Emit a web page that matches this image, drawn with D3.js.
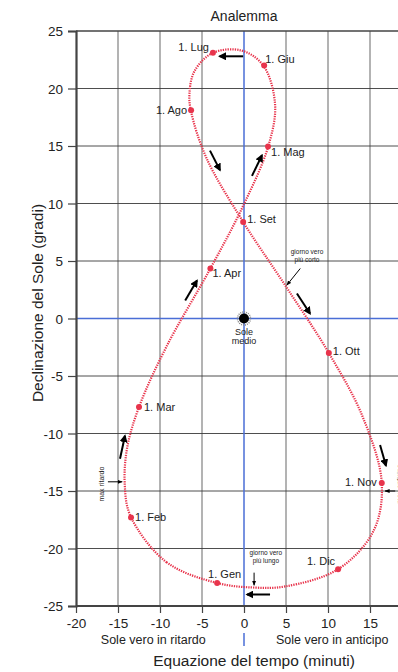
<!DOCTYPE html>
<html>
<head>
<meta charset="utf-8">
<script src="https://cdn.jsdelivr.net/npm/d3@7"></script>
<style>
  body { margin: 0; background: #fff; }
  svg { display: block; font-family: "Liberation Sans", Arial, sans-serif; }
</style>
</head>
<body>
<div id="chart"></div>
<script>
// ticks
var xTicks = [-20, -15, -10, -5, 0, 5, 10, 15]
var yTicks = [25, 20, 15, 10, 5, 0, -5, -10, -15, -20, -25]

// traced curve (equazione del tempo in minuti, declinazione in gradi), from 1 Jan
var curveEot  = [-3.2, -9.2, -13.5, -14.2, -13.9, -12.5, -9.2, -4.0, -0.1, 2.9, 3.7, 2.3, -0.3, -3.7, -5.9, -6.5, -6.3, -4.5, -0.1, 4.8, 10.1, 14.1, 16.4, 15.4, 11.2, 4.9, 1.3]
var curveDecl = [-23.0, -21.2, -17.2, -14.4, -11.2, -7.7, -2.4, 4.35, 9.8, 15.0, 18.6, 22.0, 23.3, 23.1, 21.5, 19.5, 18.0, 14.0, 8.4, 3.0, -3.0, -8.5, -14.3, -18.5, -21.8, -23.3, -23.4]

// first of month markers
var months    = ["1. Gen", "1. Feb", "1. Mar", "1. Apr", "1. Mag", "1. Giu", "1. Lug", "1. Ago", "1. Set", "1. Ott", "1. Nov", "1. Dic"]
var monthEot  = [-3.2, -13.45, -12.5, -4.0, 2.86, 2.4, -3.7, -6.3, -0.1, 10.1, 16.4, 11.2]
var monthDecl = [-23.0, -17.3, -7.7, 4.35, 14.96, 22.0, 23.1, 18.1, 8.4, -3.0, -14.3, -21.8]

// direction arrows [eot1, decl1, eot2, decl2]
var bigArrows = [
  [-0.1, 22.8, -2.9, 22.8],
  [-4.05, 14.6, -2.86, 12.9],
  [0.95, 12.4, 2.14, 14.2],
  [-7.0, 1.57, -5.6, 3.3],
  [6.3, 2.17, 7.86, 0.43],
  [16.2, -11.0, 16.9, -12.8],
  [-14.76, -12.2, -14.17, -10.2],
  [3.1, -24.0, 0.36, -24.0]
]
var smallArrows = [
  [-16.2, -14.2, -14.5, -14.2],
  [18.0, -15.0, 16.8, -15.0],
  [1.2, -22.1, 1.2, -23.2],
  [6.7, 4.35, 5.1, 2.9]
]

// label placement (anchor, dx, dy)
var labelPos = [
  ["start", -9, -5], ["start", 4, 4], ["start", 5, 4], ["start", 2, 9],
  ["start", 3, 10], ["start", 1, -3], ["end", -4, -2], ["end", -4, 4],
  ["start", 4, 1], ["start", 4, 2], ["end", -5, 3], ["end", -3, -4]
]

var width = 398, height = 672
var red = "#e8344c", blue = "#4a6ed6"

var svg = d3.select("#chart").append("svg").attr("width", width).attr("height", height)

var x = d3.scaleLinear().domain([-20, 20]).range([76, 412])
var y = d3.scaleLinear().domain([-25, 25]).range([606, 31])

var defs = svg.append("defs")
defs.append("marker").attr("id", "head").attr("viewBox", "0 0 10 10")
  .attr("refX", 8).attr("refY", 5).attr("markerWidth", 4).attr("markerHeight", 4)
  .attr("orient", "auto").attr("markerUnits", "strokeWidth")
  .append("path").attr("d", "M0,0 L10,5 L0,10 z").attr("fill", "#000")
defs.append("marker").attr("id", "headSmall").attr("viewBox", "0 0 10 10")
  .attr("refX", 9).attr("refY", 5).attr("markerWidth", 5).attr("markerHeight", 5)
  .attr("orient", "auto").attr("markerUnits", "strokeWidth")
  .append("path").attr("d", "M0,1 L10,5 L0,9 z").attr("fill", "#000")

// title
svg.append("text").attr("x", x(0)).attr("y", 21).attr("text-anchor", "middle")
  .attr("font-size", "14px").attr("fill", "#222").text("Analemma")

// vertical grid
svg.selectAll(".vgrid").data([-15, -10, -5, 5, 10, 15, 20]).enter().append("line")
  .attr("class", "vgrid")
  .attr("x1", function(d) { return x(d) }).attr("x2", function(d) { return x(d) })
  .attr("y1", y(25)).attr("y2", y(-25))
  .attr("stroke", "#a0a0a0").attr("stroke-width", 1.6)

// horizontal grid
svg.selectAll(".hgrid").data([20, 15, 10, 5, -5, -10, -15, -20]).enter().append("line")
  .attr("class", "hgrid")
  .attr("x1", x(-20)).attr("x2", x(20))
  .attr("y1", function(d) { return y(d) }).attr("y2", function(d) { return y(d) })
  .attr("stroke", "#3a3a3a").attr("stroke-width", 0.9)

// blue zero lines
svg.append("line").attr("x1", x(-20)).attr("x2", x(20)).attr("y1", y(0)).attr("y2", y(0))
  .attr("stroke", blue).attr("stroke-width", 1.5)
svg.append("line").attr("x1", x(0)).attr("x2", x(0)).attr("y1", y(25)).attr("y2", y(-25))
  .attr("stroke", blue).attr("stroke-width", 1.5)

// top border
svg.append("line").attr("x1", x(-20)).attr("x2", x(20)).attr("y1", y(25)).attr("y2", y(25))
  .attr("stroke", "#444").attr("stroke-width", 1.6)

// axes (plain hyphen minus like the original)
var fmt = function(d) { return String(d) }
var yAxis = svg.append("g").attr("transform", "translate(" + x(-20) + ",0)")
  .call(d3.axisLeft(y).tickValues(yTicks).tickSize(8).tickPadding(5).tickFormat(fmt))
var xAxis = svg.append("g").attr("transform", "translate(0," + y(-25) + ")")
  .call(d3.axisBottom(x).tickValues(xTicks).tickSize(7).tickPadding(5).tickFormat(fmt))
;[yAxis, xAxis].forEach(function(a) {
  a.select(".domain").attr("stroke", "#444").attr("stroke-width", 2.2)
  a.selectAll(".tick line").attr("stroke", "#444").attr("stroke-width", 1.2)
  a.selectAll(".tick text").attr("font-size", "13.5px").attr("fill", "#222")
    .attr("font-family", "Liberation Sans, Arial, sans-serif")
})
yAxis.selectAll(".tick text").attr("dy", "0.35em")
xAxis.select(".domain").attr("d", "M" + x(-20) + ",0H" + x(20))

// analemma curve
var pts = curveEot.map(function(e, i) { return [e, curveDecl[i]] })
var line = d3.line().x(function(d) { return x(d[0]) }).y(function(d) { return y(d[1]) })
  .curve(d3.curveCatmullRomClosed.alpha(0.5))
svg.append("path").datum(pts).attr("d", line)
  .attr("fill", "none").attr("stroke", red).attr("stroke-width", 2.2)
  .attr("stroke-dasharray", "1.3,1.1")

// month markers
svg.selectAll(".mdot").data(months).enter().append("circle")
  .attr("class", "mdot")
  .attr("cx", function(d, i) { return x(monthEot[i]) })
  .attr("cy", function(d, i) { return y(monthDecl[i]) })
  .attr("r", 3).attr("fill", red)
svg.selectAll(".mlabel").data(months).enter().append("text")
  .attr("class", "mlabel")
  .attr("x", function(d, i) { return x(monthEot[i]) + labelPos[i][1] })
  .attr("y", function(d, i) { return y(monthDecl[i]) + labelPos[i][2] })
  .attr("text-anchor", function(d, i) { return labelPos[i][0] })
  .attr("font-size", "11px").attr("fill", "#222")
  .text(function(d) { return d })

// arrows
svg.selectAll(".barrow").data(bigArrows).enter().append("line")
  .attr("class", "barrow")
  .attr("x1", function(d) { return x(d[0]) }).attr("y1", function(d) { return y(d[1]) })
  .attr("x2", function(d) { return x(d[2]) }).attr("y2", function(d) { return y(d[3]) })
  .attr("stroke", "#000").attr("stroke-width", 2).attr("marker-end", "url(#head)")
svg.selectAll(".sarrow").data(smallArrows).enter().append("line")
  .attr("class", "sarrow")
  .attr("x1", function(d) { return x(d[0]) }).attr("y1", function(d) { return y(d[1]) })
  .attr("x2", function(d) { return x(d[2]) }).attr("y2", function(d) { return y(d[3]) })
  .attr("stroke", "#000").attr("stroke-width", 1).attr("marker-end", "url(#headSmall)")

// sole medio
svg.append("circle").attr("cx", x(0)).attr("cy", y(0)).attr("r", 6.5)
  .attr("fill", "none").attr("stroke", "#888").attr("stroke-width", 1.5).attr("stroke-dasharray", "1,1")
svg.append("circle").attr("cx", x(0)).attr("cy", y(0)).attr("r", 5).attr("fill", "#000")
svg.append("text").attr("x", x(0)).attr("y", y(0) + 16).attr("text-anchor", "middle")
  .attr("font-size", "9px").attr("fill", "#222").text("Sole")
svg.append("text").attr("x", x(0)).attr("y", y(0) + 25).attr("text-anchor", "middle")
  .attr("font-size", "9px").attr("fill", "#222").text("medio")

// small notes
function note(lines, ex, dc) {
  lines.forEach(function(t, i) {
    svg.append("text").attr("x", x(ex)).attr("y", y(dc) + i * 8)
      .attr("text-anchor", "middle").attr("font-size", "6.5px").attr("fill", "#222").text(t)
  })
}
note(["giorno vero", "più corto"], 7.5, 5.6)
note(["giorno vero", "più lungo"], 2.6, -20.6)
svg.append("text").attr("transform", "translate(" + (x(-16.7) ) + "," + y(-14.4) + ") rotate(-90)")
  .attr("text-anchor", "middle").attr("font-size", "7px").attr("fill", "#222").text("max ritardo")
svg.append("text").attr("transform", "translate(" + (x(18.8)) + "," + y(-14.4) + ") rotate(-90)")
  .attr("text-anchor", "middle").attr("font-size", "7px").attr("fill", "#222").text("max anticipo")

// bottom labels
svg.append("text").attr("x", x(-10.8)).attr("y", 644).attr("text-anchor", "middle")
  .attr("font-size", "12.5px").attr("fill", "#222").text("Sole vero in ritardo")
svg.append("text").attr("x", x(3.8)).attr("y", 644).attr("text-anchor", "start")
  .attr("font-size", "12.5px").attr("fill", "#222").text("Sole vero in anticipo")
svg.append("line").attr("x1", x(0)).attr("x2", x(0)).attr("y1", 633).attr("y2", 646)
  .attr("stroke", blue).attr("stroke-width", 1.5)

// axis titles
svg.append("text").attr("x", 254).attr("y", 666).attr("text-anchor", "middle")
  .attr("font-size", "15.5px").attr("fill", "#222").text("Equazione del tempo (minuti)")
svg.append("text").attr("transform", "translate(43,303) rotate(-90)").attr("text-anchor", "middle")
  .attr("font-size", "15.5px").attr("fill", "#222").text("Declinazione del Sole (gradi)")
</script>
</body>
</html>
